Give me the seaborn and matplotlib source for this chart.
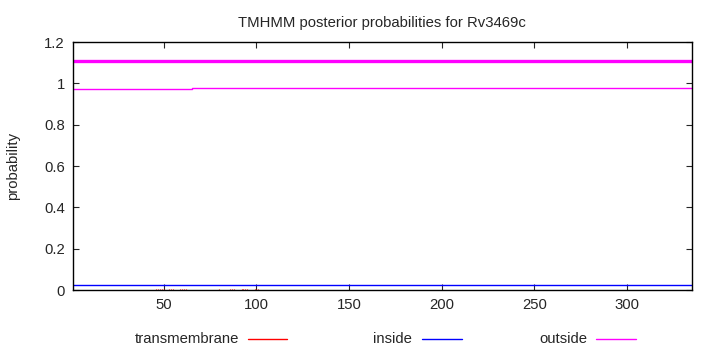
import pandas as pd
import matplotlib
matplotlib.use("Agg")
import matplotlib.pyplot as plt
from matplotlib.lines import Line2D
import seaborn as sns

# Data for Rv3469c
outside_pos = [1, 65, 335]
outside_prob = [0.972, 0.976, 0.976]
inside_pos = [1, 335]
inside_prob = [0.026, 0.026]
tm_pos = [46, 47, 48, 49, 50, 53, 54, 55, 59, 60, 61, 62, 80, 86, 87, 88, 92, 93, 94, 95, 99, 100, 101]
tm_prob = [0.004, 0.005, 0.005, 0.005, 0.004, 0.004, 0.005, 0.004, 0.004, 0.005, 0.005, 0.004,
           0.003, 0.004, 0.005, 0.004, 0.004, 0.005, 0.005, 0.004, 0.004, 0.005, 0.004]
# topology bar: whole sequence predicted outside
topo_pos = [1, 335]
topo_level = [1.11, 1.11]

xticks = [50, 100, 150, 200, 250, 300]
yticks = [0, 0.2, 0.4, 0.6, 0.8, 1.0, 1.2]
ylabels = ["0", "0.2", "0.4", "0.6", "0.8", "1", "1.2"]
legend_names = ["transmembrane", "inside", "outside"]
legend_colors = ["#ff0000", "#0000ff", "#ff00ff"]

sns.set_style("ticks")
plt.rcParams["font.family"] = ["Liberation Sans", "DejaVu Sans"]
FS = 10.7

fig = plt.figure(figsize=(7.1, 3.5), dpi=100)
ax = fig.add_axes([0.1028, 0.1714, 0.8714, 0.7086])

out_df = pd.DataFrame({"pos": outside_pos, "prob": outside_prob})
in_df = pd.DataFrame({"pos": inside_pos, "prob": inside_prob})
topo_df = pd.DataFrame({"pos": topo_pos, "prob": topo_level})

ax.vlines(tm_pos, 0, tm_prob, color="#ff0000", lw=0.8)
sns.lineplot(data=in_df, x="pos", y="prob", ax=ax, color="#0000ff", lw=1.0,
             drawstyle="steps-post", legend=False)
sns.lineplot(data=out_df, x="pos", y="prob", ax=ax, color="#ff00ff", lw=1.0,
             drawstyle="steps-post", legend=False)
sns.lineplot(data=topo_df, x="pos", y="prob", ax=ax, color="#ff00ff", lw=2.4,
             legend=False)

ax.set_xlim(1, 335)
ax.set_ylim(0, 1.2)
ax.set_xticks(xticks)
ax.set_xticklabels([str(t) for t in xticks])
ax.set_yticks(yticks)
ax.set_yticklabels(ylabels)
ax.tick_params(direction="in", top=True, right=True, labelsize=FS, length=4, width=0.8, pad=6)
for s in ax.spines.values():
    s.set_linewidth(1.0)
    s.set_color("black")
ax.set_xlabel("")
ax.set_ylabel("probability", fontsize=FS, labelpad=17)
ax.set_title("TMHMM posterior probabilities for Rv3469c", fontsize=FS, pad=11)

# gnuplot-style key below the plot: right-aligned label followed by a line sample
text_right = [239, 412, 587]
line_span = [(248, 287), (422, 462), (596, 636)]
W, H = 710, 350
ykey = 1 - 339 / H
for name, col, xr, (x0, x1) in zip(legend_names, legend_colors, text_right, line_span):
    fig.text(xr / W, ykey, name, ha="right", va="center", fontsize=FS)
    fig.add_artist(Line2D([x0 / W, x1 / W], [ykey, ykey], color=col, lw=1.0,
                          transform=fig.transFigure))

fig.savefig("out.png", dpi=100)
